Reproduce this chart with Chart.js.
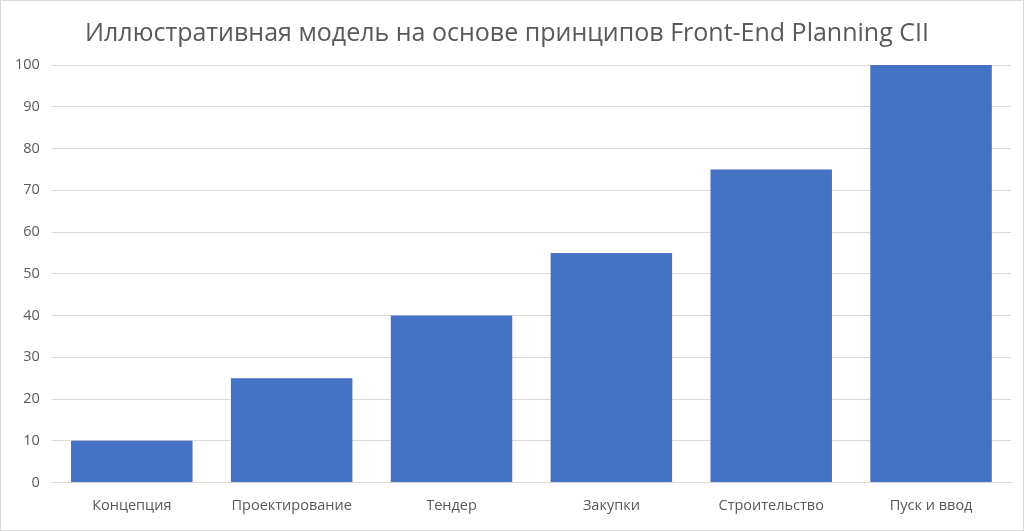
<!DOCTYPE html>
<html><head><meta charset="utf-8">
<script src="https://cdn.jsdelivr.net/npm/chart.js@4"></script>
<style>
html,body{margin:0;padding:0;background:#fff;}
#wrap{position:absolute;left:0;top:0;width:1022px;height:529px;border:1px solid #d9d9d9;}
canvas{display:block;}
</style></head><body>
<div id="wrap"><canvas id="c" width="1022" height="529"></canvas></div>
<script>
const title = "Иллюстративная модель на основе принципов Front-End Planning CII";
const categories = ["Концепция","Проектирование","Тендер","Закупки","Строительство","Пуск и ввод"];
const values = [10,25,40,55,75,100];
const yTicks = [0,10,20,30,40,50,60,70,80,90,100];

new Chart(document.getElementById('c'), {
  type: 'bar',
  data: { labels: categories, datasets: [{ data: values, backgroundColor: '#4472C4', barPercentage: 0.76, categoryPercentage: 1.0 }] },
  options: {
    responsive: false, animation: false,
    layout: { padding: { left: 2, right: 12, top: 10, bottom: 0 } },
    plugins: {
      legend: { display: false }, tooltip: { enabled: false },
      title: { display: true, text: title, color: '#595959', font: { family: 'Open Sans', size: 25, weight: 'normal' }, padding: { top: 8, bottom: 16 } }
    },
    scales: {
      x: { grid: { display: false, drawTicks: false }, border: { color: '#d9d9d9' },
           ticks: { color: '#595959', font: { family: 'Open Sans', size: 14.5 }, padding: 15, maxRotation: 0 } },
      y: { min: 0, max: 100, afterBuildTicks: a => { a.ticks = yTicks.map(v => ({value: v})); },
           grid: { color: '#d9d9d9', drawTicks: false }, border: { display: false },
           ticks: { color: '#595959', font: { family: 'Open Sans', size: 14.5 }, padding: 12 } }
    }
  }
});
</script></body></html>
